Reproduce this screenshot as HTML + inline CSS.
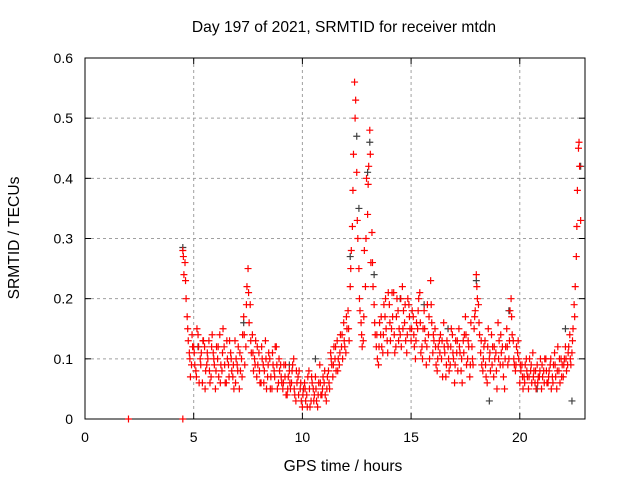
<!DOCTYPE html>
<html><head><meta charset="utf-8"><style>
body{margin:0;background:#fff;}
svg{display:block;font-family:"Liberation Sans",sans-serif;font-size:14px;}
.big{font-size:15.6px;}
</style></head><body>
<svg id="chart" width="640" height="480">
<g id="grid"></g>
<g id="axes"></g>
<g id="marks"></g>
<text class="big" x="344" y="32" text-anchor="middle" fill="#000">Day 197 of 2021, SRMTID for receiver mtdn</text>
<text class="big" x="343" y="471" text-anchor="middle" fill="#000">GPS time / hours</text>
<text class="big" transform="translate(19,238) rotate(-90)" text-anchor="middle" fill="#000">SRMTID / TECUs</text>
</svg>
<script>
const xTicks=[0,5,10,15,20];
const yTicks=[0,0.1,0.2,0.3,0.4,0.5,0.6];
const yTickLabels=["0","0.1","0.2","0.3","0.4","0.5","0.6"];
const seriesAStart=4.5, seriesBStart=4.55, seriesCStart=4.525, seriesStep=0.1;
const seriesA=[0.28,0.26,0.17,0.11,0.09,
0.12,0.08,0.14,0.10,0.06,0.12,0.09,0.13,0.07,0.11,
0.05,0.10,0.14,0.08,0.12,0.06,0.09,0.11,0.07,0.13,
0.09,0.05,0.10,0.17,0.12,0.25,0.19,0.14,0.10,0.07,
0.11,0.06,0.09,0.13,0.07,0.10,0.05,0.08,0.12,0.06,
0.09,0.05,0.07,0.04,0.08,0.06,0.10,0.03,0.07,0.05,
0.02,0.06,0.04,0.08,0.03,0.05,0.07,0.02,0.09,0.04,
0.06,0.03,0.08,0.11,0.07,0.10,0.13,0.09,0.12,0.16,
0.11,0.18,0.22,0.32,0.56,0.41,0.25,0.16,0.13,0.22,
0.34,0.48,0.31,0.19,0.12,0.09,0.14,0.11,0.17,0.13,
0.19,0.15,0.21,0.12,0.18,0.14,0.22,0.16,0.11,0.19,
0.13,0.17,0.10,0.15,0.21,0.12,0.18,0.09,0.14,0.23,
0.11,0.15,0.08,0.13,0.10,0.16,0.07,0.12,0.09,0.14,
0.06,0.11,0.15,0.08,0.13,0.17,0.10,0.07,0.12,0.15,
0.24,0.19,0.11,0.08,0.13,0.06,0.10,0.14,0.07,0.11,
0.16,0.09,0.12,0.05,0.15,0.10,0.20,0.13,0.08,0.11,
0.06,0.09,0.07,0.10,0.05,0.08,0.11,0.06,0.09,0.07,
0.05,0.08,0.10,0.06,0.09,0.07,0.11,0.05,0.08,0.10,
0.07,0.12,0.09,0.14,0.11,0.19,0.27,0.45,0.33];
const seriesB=[0.24,0.20,0.13,0.07,0.12,
0.09,0.15,0.06,0.11,0.13,0.08,0.10,0.06,0.14,0.09,
0.12,0.07,0.09,0.15,0.06,0.10,0.13,0.08,0.05,0.10,
0.12,0.08,0.14,0.09,0.22,0.16,0.11,0.08,0.13,0.09,
0.06,0.10,0.08,0.05,0.11,0.07,0.09,0.12,0.05,0.08,
0.06,0.09,0.04,0.07,0.05,0.09,0.04,0.06,0.08,0.03,
0.05,0.03,0.07,0.02,0.06,0.04,0.03,0.06,0.04,0.07,
0.04,0.07,0.05,0.09,0.12,0.08,0.10,0.14,0.10,0.12,
0.15,0.13,0.28,0.44,0.53,0.30,0.18,0.12,0.28,0.40,
0.42,0.26,0.22,0.14,0.10,0.16,0.12,0.19,0.15,0.21,
0.13,0.17,0.11,0.20,0.15,0.12,0.18,0.13,0.20,0.15,
0.18,0.12,0.16,0.20,0.11,0.15,0.13,0.19,0.10,0.16,
0.13,0.09,0.12,0.14,0.07,0.11,0.13,0.08,0.15,0.10,
0.13,0.08,0.11,0.06,0.14,0.09,0.12,0.16,0.09,0.18,
0.20,0.14,0.09,0.12,0.07,0.15,0.08,0.12,0.10,0.05,
0.13,0.11,0.07,0.12,0.09,0.18,0.14,0.09,0.12,0.10,
0.08,0.05,0.09,0.07,0.10,0.06,0.08,0.05,0.07,0.10,
0.07,0.10,0.06,0.08,0.05,0.09,0.07,0.12,0.06,0.09,
0.10,0.08,0.12,0.09,0.15,0.22,0.38,0.42];
const seriesC=[0.27,0.23,0.15,0.10,0.14,
0.11,0.07,0.12,0.09,0.13,0.05,0.11,0.08,0.12,0.10,
0.08,0.12,0.06,0.11,0.09,0.13,0.07,0.10,0.09,0.06,
0.08,0.11,0.07,0.14,0.19,0.21,0.13,0.11,0.09,0.12,
0.08,0.12,0.06,0.10,0.09,0.05,0.11,0.07,0.09,0.10,
0.07,0.06,0.09,0.05,0.06,0.08,0.05,0.08,0.04,0.06,
0.04,0.05,0.02,0.05,0.07,0.03,0.05,0.04,0.06,0.05,
0.08,0.05,0.06,0.10,0.09,0.12,0.08,0.11,0.14,0.13,
0.17,0.15,0.25,0.38,0.50,0.33,0.20,0.14,0.17,0.30,
0.39,0.44,0.26,0.16,0.14,0.12,0.17,0.14,0.20,0.11,
0.16,0.21,0.14,0.17,0.13,0.20,0.15,0.19,0.14,0.17,
0.15,0.14,0.13,0.18,0.16,0.10,0.15,0.12,0.17,0.19,
0.14,0.12,0.10,0.11,0.13,0.12,0.09,0.10,0.12,0.11,
0.09,0.13,0.12,0.10,0.11,0.14,0.13,0.09,0.10,0.17,
0.22,0.16,0.13,0.10,0.09,0.12,0.11,0.09,0.12,0.08,
0.10,0.14,0.09,0.10,0.12,0.13,0.17,0.10,0.09,0.13,
0.09,0.07,0.06,0.08,0.07,0.09,0.07,0.08,0.06,0.08,
0.09,0.06,0.08,0.07,0.10,0.06,0.09,0.08,0.10,0.07,
0.09,0.10,0.11,0.10,0.13,0.17,0.32,0.46];
const grayTimes=[4.5,5.2,7.3,9.4,10.6,12.2,12.5,12.6,13.0,13.1,13.3,14.5,15.6,16.7,18.0,18.6,19.5,20.8,22.1,22.4,22.8];
const grayValues=[0.285,0.12,0.16,0.09,0.10,0.27,0.47,0.35,0.41,0.46,0.24,0.20,0.19,0.15,0.23,0.03,0.18,0.05,0.15,0.03,0.42];
const zeroTimes=[2,4.5];
const zeroValues=[0,0];

const X0=85,X1=585,Y0=419,Y1=58;
const xs=t=>X0+(t/23)*(X1-X0);
const ys=v=>Y0-(v/0.6)*(Y0-Y1);
const NS="http://www.w3.org/2000/svg";
function mk(tag,attrs,parent){const e=document.createElementNS(NS,tag);for(const k in attrs)e.setAttribute(k,attrs[k]);parent.appendChild(e);return e;}
const grid=document.getElementById('grid'),axes=document.getElementById('axes'),marks=document.getElementById('marks');
xTicks.forEach(t=>{const x=xs(t);
 if(t>0){const g=mk('line',{x1:x,x2:x,y1:Y1,y2:Y0,stroke:'#a0a0a0','stroke-dasharray':'3,3'},grid);
 
 }
 mk('line',{x1:x,x2:x,y1:Y0,y2:Y0-6,stroke:'#000'},axes);
 mk('line',{x1:x,x2:x,y1:Y1,y2:Y1+6,stroke:'#000'},axes);
 const l=mk('text',{x:x,y:Y0+23,'text-anchor':'middle'},axes);l.textContent=t;
 
 
});
yTicks.forEach((v,i)=>{const y=ys(v);
 if(i>0&&i<yTicks.length-1){const g=mk('line',{x1:X0,x2:X1,y1:y,y2:y,stroke:'#a0a0a0','stroke-dasharray':'3,3'},grid);
 
 }
 mk('line',{x1:X0,x2:X0+6,y1:y,y2:y,stroke:'#000'},axes);
 mk('line',{x1:X1,x2:X1-6,y1:y,y2:y,stroke:'#000'},axes);
 const l=mk('text',{x:X0-12,y:y+5,'text-anchor':'end'},axes);l.textContent=yTickLabels[i];
 
 
});
const fr=mk('rect',{x:X0,y:Y1,width:X1-X0,height:Y0-Y1,fill:'none',stroke:'#000'},axes);


function plus(t,v,col){const x=xs(t),y=ys(v);
 const p=mk('path',{d:`M${x-3.5},${y}H${x+3.5}M${x},${y-3.5}V${y+3.5}`,stroke:col,'stroke-width':1.2,fill:'none'},marks);
 
 }
grayTimes.forEach((t,i)=>plus(t,grayValues[i],'#404040'));
seriesA.forEach((v,i)=>plus(seriesAStart+i*seriesStep,v,'#ff0000'));
seriesB.forEach((v,i)=>plus(seriesBStart+i*seriesStep,v,'#ff0000'));
seriesC.forEach((v,i)=>plus(seriesCStart+i*seriesStep,v,'#ff0000'));
zeroTimes.forEach((t,i)=>plus(t,zeroValues[i],'#ff0000'));
</script>
</body></html>
